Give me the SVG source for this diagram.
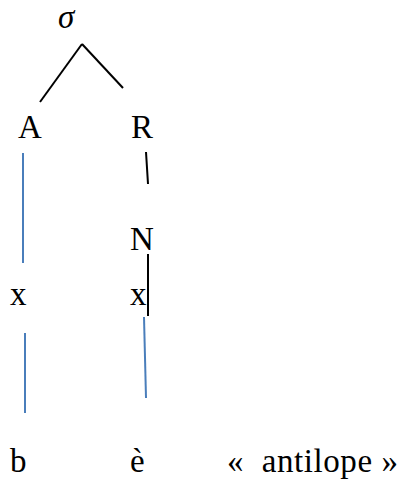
<svg xmlns="http://www.w3.org/2000/svg" width="401" height="480" viewBox="0 0 401 480">
<style>
text{font-family:"Liberation Serif","DejaVu Serif",serif;font-size:33px;fill:#000}
.k{stroke:#000;stroke-width:2;fill:none}
.b{stroke:#4a7ebb;stroke-width:2;fill:none}
</style>
<rect width="401" height="480" fill="#fff"/>
<g id="connectors">
<line class="k" x1="82" y1="44" x2="40" y2="102"/>
<line class="k" x1="82" y1="44" x2="123" y2="88"/>
<line class="b" x1="23" y1="153" x2="23" y2="263"/>
<line class="k" x1="146" y1="152" x2="148" y2="184"/>
<line class="k" x1="148" y1="254" x2="148" y2="316"/>
<line class="b" x1="25" y1="333" x2="25" y2="413"/>
<line class="b" x1="144" y1="317" x2="146" y2="398"/>
</g>
<g id="sigma"><text x="58" y="28" font-style="italic">σ</text></g>
<g id="A"><text x="18" y="138">A</text></g>
<g id="R"><text x="131" y="138">R</text></g>
<g id="N"><text x="130" y="250">N</text></g>
<g id="x1"><text x="10" y="305">x</text></g>
<g id="x2"><text x="130" y="305">x</text></g>
<g id="b"><text x="10" y="472">b</text></g>
<g id="e"><text x="130" y="472">è</text></g>
<g id="gloss"><text x="227" y="472" textLength="171" lengthAdjust="spacing" xml:space="preserve">«  antilope »</text></g>
</svg>
